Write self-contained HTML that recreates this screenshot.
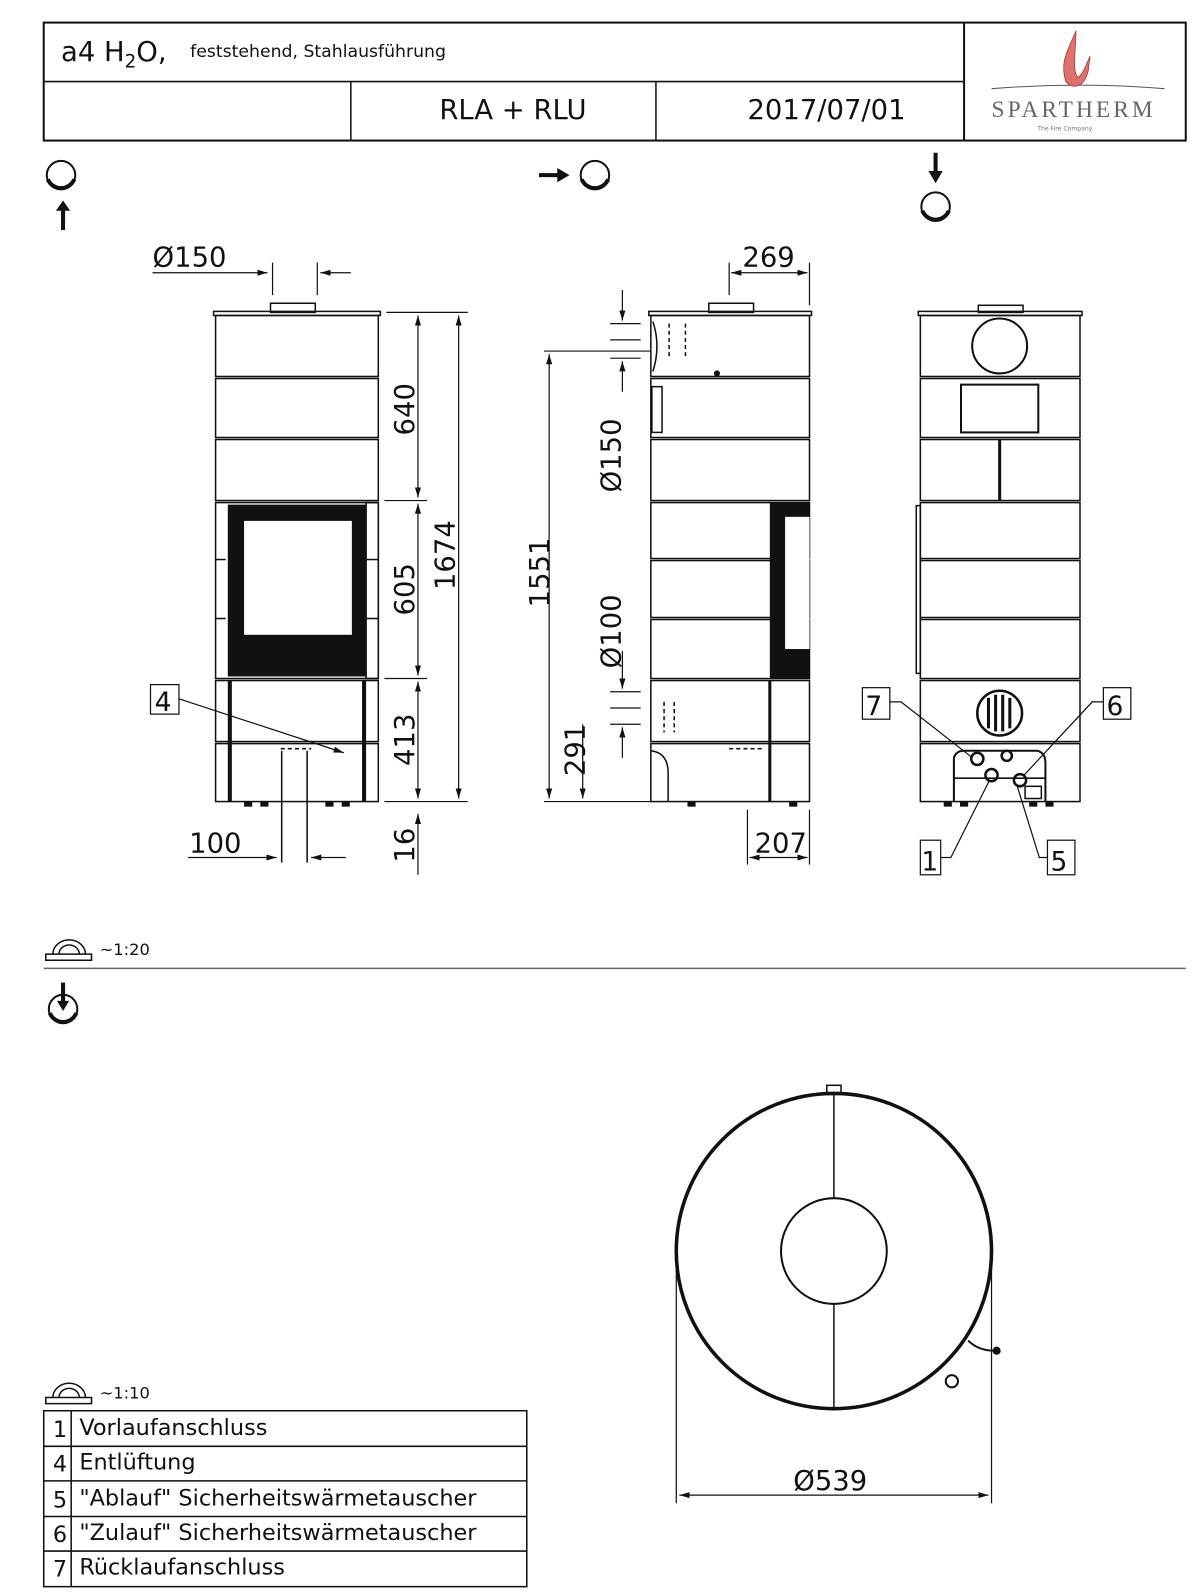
<!DOCTYPE html>
<html><head><meta charset="utf-8"><style>
html,body{margin:0;padding:0;background:#fff;overflow:hidden;}
svg{display:block;}
text{font-family:"DejaVu Sans","Liberation Sans",sans-serif;fill:#111;}
</style></head><body>
<svg width="1200" height="1595" viewBox="0 0 1180 1568" xmlns="http://www.w3.org/2000/svg">
<defs>
<marker id="a" markerWidth="10" markerHeight="8" refX="10" refY="4" orient="auto-start-reverse" markerUnits="userSpaceOnUse"><path d="M0,1 L10,4 L0,7 Z" fill="#111"/></marker>
</defs>
<g fill="none" stroke="#111">
<rect x="43" y="22" width="1123" height="116" stroke-width="2"/>
<line x1="43" y1="80" x2="948" y2="80" stroke-width="1.5"/>
<line x1="948" y1="22" x2="948" y2="138" stroke-width="2"/>
<line x1="345" y1="80" x2="345" y2="138" stroke-width="1.5"/>
<line x1="645" y1="80" x2="645" y2="138" stroke-width="1.5"/>
<path d="M975,87 Q1060,80 1145,87" stroke="#555" stroke-width="1"/>
</g>
<path d="M1058,30 C1050,50 1042,60 1048,80 C1055,88 1066,86 1070,70 L1072,55 C1068,62 1066,72 1060,76 C1054,70 1058,50 1058,30Z" fill="#e07070" stroke="#a04040" stroke-width="0.8"/>
<text x="60" y="60" font-size="27">a4 H<tspan font-size="18" dy="6">2</tspan><tspan dy="-6">O,</tspan></text>
<text x="187" y="56" font-size="17">feststehend, Stahlausführung</text>
<text x="432" y="117" font-size="27">RLA + RLU</text>
<text x="735" y="117" font-size="27">2017/07/01</text>
<text x="975" y="115" font-size="23" letter-spacing="3" style="fill:#666;font-family:'Liberation Serif',serif">SPARTHERM</text>
<text x="1020" y="128" font-size="6" style="fill:#777">The Fire Company</text>

<g fill="none" stroke="#111" stroke-width="2">
<circle cx="60" cy="172" r="14"/>
<circle cx="585" cy="172" r="14"/>
<circle cx="920" cy="203" r="14"/>
<circle cx="62" cy="992" r="14"/>
</g>
<g fill="none" stroke="#111" stroke-width="4">
<path d="M47,176 A14,14 0 0 0 73,176"/>
<path d="M572,176 A14,14 0 0 0 598,176"/>
<path d="M907,207 A14,14 0 0 0 933,207"/>
<path d="M49,996 A14,14 0 0 0 75,996"/>
</g>
<g stroke="#111" stroke-width="4" fill="#111">
<line x1="62" y1="226" x2="62" y2="205"/><path d="M55,207 L62,197 L69,207Z" stroke="none"/>
<line x1="530" y1="172" x2="550" y2="172"/><path d="M548,165 L560,172 L548,179Z" stroke="none"/>
<line x1="920" y1="150" x2="920" y2="170"/><path d="M913,168 L920,180 L927,168Z" stroke="none"/>
<line x1="62" y1="966" x2="62" y2="988"/><path d="M56,984 L62,994 L68,984Z" stroke="none"/>
</g>

<!-- FRONT VIEW -->
<g fill="none" stroke="#111" stroke-width="1.5">
<rect x="210" y="306" width="164" height="4"/>
<rect x="266" y="298" width="44" height="9"/>
<rect x="212" y="310" width="160" height="60"/>
<rect x="212" y="372" width="160" height="58"/>
<rect x="212" y="432" width="160" height="60"/>
<rect x="212" y="494" width="160" height="173"/>
<line x1="212" y1="550" x2="222" y2="550"/><line x1="212" y1="608" x2="222" y2="608"/>
<line x1="360" y1="550" x2="372" y2="550"/><line x1="360" y1="608" x2="372" y2="608"/>
<rect x="212" y="669" width="160" height="60"/>
<rect x="212" y="731" width="160" height="57"/>
<rect x="360" y="494" width="12" height="173"/>
<line x1="226" y1="669" x2="226" y2="788" stroke-width="4"/>
<line x1="358" y1="669" x2="358" y2="788" stroke-width="4"/>
<path d="M277,738 L277,848 M302,738 L302,848"/>
<path d="M276,736 L306,736" stroke-dasharray="4,3"/>
</g>
<rect x="224" y="496" width="136" height="169" fill="#111"/>
<rect x="240" y="512" width="106" height="112" fill="#fff"/>
<g fill="#111"><rect x="240" y="788" width="8" height="5"/><rect x="256" y="788" width="8" height="5"/><rect x="320" y="788" width="8" height="5"/><rect x="336" y="788" width="8" height="5"/></g>
<g stroke="#111" stroke-width="1.2" fill="none">
<line x1="150" y1="268" x2="263" y2="268" marker-end="url(#a)"/>
<line x1="345" y1="268" x2="315" y2="268" marker-end="url(#a)"/>
<line x1="268" y1="258" x2="268" y2="290"/><line x1="312" y1="258" x2="312" y2="290"/>
<line x1="380" y1="307" x2="460" y2="307"/><line x1="378" y1="492" x2="420" y2="492"/>
<line x1="378" y1="667" x2="420" y2="667"/><line x1="378" y1="788" x2="460" y2="788"/>
<line x1="411" y1="310" x2="411" y2="489" marker-start="url(#a)" marker-end="url(#a)"/>
<line x1="411" y1="495" x2="411" y2="664" marker-start="url(#a)" marker-end="url(#a)"/>
<line x1="411" y1="670" x2="411" y2="785" marker-start="url(#a)" marker-end="url(#a)"/>
<line x1="411" y1="800" x2="411" y2="860" marker-start="url(#a)"/>
<line x1="451" y1="310" x2="451" y2="785" marker-start="url(#a)" marker-end="url(#a)"/>
<line x1="185" y1="843" x2="272" y2="843" marker-end="url(#a)"/>
<line x1="340" y1="843" x2="306" y2="843" marker-end="url(#a)"/>
<rect x="148" y="673" width="28" height="29"/>
<line x1="176" y1="687" x2="338" y2="740" marker-end="url(#a)"/>
</g>
<text x="150" y="262" font-size="27">Ø150</text>
<text x="186" y="838" font-size="27">100</text>
<text x="152" y="699" font-size="26">4</text>
<g font-size="27">
<text transform="translate(407,428) rotate(-90)">640</text>
<text transform="translate(407,605) rotate(-90)">605</text>
<text transform="translate(407,753) rotate(-90)">413</text>
<text transform="translate(407,848) rotate(-90)">16</text>
<text transform="translate(447,580) rotate(-90)">1674</text>
<text transform="translate(540,597) rotate(-90)">1551</text>
<text transform="translate(610,484) rotate(-90)">Ø150</text>
<text transform="translate(610,657) rotate(-90)">Ø100</text>
<text transform="translate(575,763) rotate(-90)">291</text>
</g>

<!-- SIDE VIEW -->
<g fill="none" stroke="#111" stroke-width="1.5">
<rect x="638" y="306" width="160" height="4"/>
<rect x="697" y="298" width="44" height="9"/>
<rect x="640" y="310" width="156" height="60"/>
<rect x="640" y="372" width="156" height="58"/>
<rect x="640" y="432" width="156" height="60"/>
<rect x="640" y="494" width="156" height="55"/>
<rect x="640" y="551" width="156" height="56"/>
<rect x="640" y="609" width="156" height="58"/>
<rect x="640" y="669" width="156" height="60"/>
<rect x="640" y="731" width="156" height="57"/>
<line x1="757" y1="669" x2="757" y2="788" stroke-width="3"/>
<rect x="641" y="380" width="10" height="45"/>
<path d="M658,318 L658,352 M674,318 L674,352" stroke-dasharray="4,3"/>
<path d="M653,690 L653,720 M663,690 L663,720" stroke-dasharray="4,3"/>
<path d="M717,736 L750,736" stroke-dasharray="4,3"/>
<path d="M642,316 Q650,340 642,365"/>
<path d="M640,738 Q657,740 657,760 L657,788"/>
</g>
<circle cx="705" cy="367" r="3" fill="#111"/>
<rect x="757" y="494" width="39" height="173" fill="#111"/>
<rect x="772" y="508" width="24" height="130" fill="#fff"/>
<g fill="#111"><rect x="676" y="788" width="8" height="5"/><rect x="776" y="788" width="8" height="5"/></g>
<g stroke="#111" stroke-width="1.2" fill="none">
<line x1="717" y1="258" x2="717" y2="290"/><line x1="796" y1="258" x2="796" y2="300"/>
<line x1="719" y1="268" x2="794" y2="268" marker-start="url(#a)" marker-end="url(#a)"/>
<line x1="612" y1="285" x2="612" y2="315" marker-end="url(#a)"/>
<line x1="600" y1="318" x2="630" y2="318"/><line x1="600" y1="334" x2="630" y2="334"/><line x1="600" y1="352" x2="630" y2="352"/>
<line x1="612" y1="355" x2="612" y2="385" marker-start="url(#a)"/>
<line x1="612" y1="640" x2="612" y2="677" marker-end="url(#a)"/>
<line x1="600" y1="680" x2="630" y2="680"/><line x1="600" y1="696" x2="630" y2="696"/><line x1="600" y1="712" x2="630" y2="712"/>
<line x1="612" y1="715" x2="612" y2="745" marker-start="url(#a)"/>
<line x1="535" y1="345" x2="640" y2="345"/><line x1="535" y1="788" x2="640" y2="788"/>
<line x1="540" y1="348" x2="540" y2="785" marker-start="url(#a)" marker-end="url(#a)"/>
<line x1="573" y1="712" x2="573" y2="785" marker-end="url(#a)"/>
<line x1="735" y1="796" x2="735" y2="850"/><line x1="796" y1="796" x2="796" y2="850"/>
<line x1="737" y1="843" x2="794" y2="843" marker-start="url(#a)" marker-end="url(#a)"/>
</g>
<text x="730" y="262" font-size="27">269</text>
<text x="742" y="838" font-size="27">207</text>

<!-- BACK VIEW -->
<g fill="none" stroke="#111" stroke-width="1.5">
<rect x="903" y="306" width="161" height="4"/>
<rect x="962" y="300" width="44" height="7"/>
<rect x="905" y="310" width="157" height="60"/>
<rect x="905" y="372" width="157" height="58"/>
<rect x="905" y="432" width="157" height="60"/>
<rect x="905" y="494" width="157" height="55"/>
<rect x="905" y="551" width="157" height="56"/>
<rect x="905" y="609" width="157" height="58"/>
<rect x="905" y="669" width="157" height="60"/>
<rect x="905" y="731" width="157" height="57"/>
<rect x="901" y="497" width="4" height="165"/>
<circle cx="983" cy="340" r="27" stroke-width="2"/>
<rect x="945" y="378" width="76" height="47" stroke-width="2"/>
<line x1="983" y1="432" x2="983" y2="492" stroke-width="3"/>
<circle cx="983" cy="701" r="22" stroke-width="2.5"/>
<path d="M972,686 v30 M979,683 v36 M986,683 v36 M993,686 v30" stroke-width="3"/>
<path d="M938,788 L938,745 Q940,738 948,738 L1020,738 Q1028,740 1028,750 L1028,788" stroke-width="2"/>
<line x1="938" y1="765" x2="1028" y2="765"/>
<circle cx="961" cy="746" r="6" stroke-width="2.5"/>
<circle cx="990" cy="743" r="5" stroke-width="2.5"/>
<circle cx="975" cy="762" r="6" stroke-width="2.5"/>
<circle cx="1003" cy="767" r="6" stroke-width="2.5"/>
<rect x="1008" y="773" width="16" height="12"/>
</g>
<g fill="#111"><rect x="928" y="788" width="8" height="5"/><rect x="944" y="788" width="8" height="5"/><rect x="1012" y="788" width="8" height="5"/><rect x="1028" y="788" width="8" height="5"/></g>
<g stroke="#111" stroke-width="1.2" fill="none">
<rect x="848" y="676" width="27" height="31"/><rect x="1085" y="676" width="27" height="31"/>
<rect x="905" y="826" width="20" height="34"/><rect x="1030" y="826" width="27" height="34"/>
<path d="M875,690 L886,690 L955,744"/>
<path d="M1085,690 L1074,690 L1007,762"/>
<path d="M925,843 L935,843 L973,767"/>
<path d="M1030,843 L1022,843 L1000,772"/>
</g>
<text x="851" y="703" font-size="26">7</text>
<text x="1088" y="703" font-size="26">6</text>
<text x="906" y="856" font-size="26">1</text>
<text x="1033" y="856" font-size="26">5</text>

<g fill="none" stroke="#111" stroke-width="1.5">
<path d="M45,944 L90,944 L90,938 L45,938Z M52,938 A16,14 0 0 1 84,938 M58,938 A10,9 0 0 1 78,938"/>
<path d="M45,1380 L90,1380 L90,1374 L45,1374Z M52,1374 A16,14 0 0 1 84,1374 M58,1374 A10,9 0 0 1 78,1374"/>
<line x1="43" y1="952" x2="1166" y2="952" stroke="#666"/>
</g>
<text x="98" y="939" font-size="16">~1:20</text>
<text x="98" y="1375" font-size="16">~1:10</text>

<!-- TOP VIEW -->
<g fill="none" stroke="#111">
<circle cx="820" cy="1230" r="155" stroke-width="3.5"/>
<circle cx="820" cy="1230" r="52" stroke-width="2"/>
<line x1="820" y1="1075" x2="820" y2="1178" stroke-width="1.5"/>
<line x1="820" y1="1282" x2="820" y2="1385" stroke-width="1.5"/>
<rect x="813" y="1067" width="14" height="9" stroke-width="1.5"/>
<line x1="665" y1="1240" x2="665" y2="1478" stroke-width="1.2"/>
<line x1="975" y1="1240" x2="975" y2="1478" stroke-width="1.2"/>
<line x1="668" y1="1470" x2="972" y2="1470" stroke-width="1.2" marker-start="url(#a)" marker-end="url(#a)"/>
<path d="M952,1318 Q962,1328 978,1328" stroke-width="2"/>
<circle cx="936" cy="1358" r="6" stroke-width="2"/>
</g>
<circle cx="980" cy="1328" r="4" fill="#111"/>
<text x="780" y="1465" font-size="27">Ø539</text>

<g fill="none" stroke="#111" stroke-width="1.5">
<rect x="43" y="1387" width="475" height="173"/>
<line x1="70" y1="1387" x2="70" y2="1560"/>
<line x1="43" y1="1422" x2="518" y2="1422"/>
<line x1="43" y1="1456" x2="518" y2="1456"/>
<line x1="43" y1="1491" x2="518" y2="1491"/>
<line x1="43" y1="1525" x2="518" y2="1525"/>
</g>
<g font-size="22">
<text x="52" y="1413">1</text><text x="78" y="1411">Vorlaufanschluss</text>
<text x="52" y="1447">4</text><text x="78" y="1445">Entlüftung</text>
<text x="52" y="1482">5</text><text x="78" y="1480">"Ablauf" Sicherheitswärmetauscher</text>
<text x="52" y="1516">6</text><text x="78" y="1514">"Zulauf" Sicherheitswärmetauscher</text>
<text x="52" y="1550">7</text><text x="78" y="1548">Rücklaufanschluss</text>
</g>
</svg>
</body></html>
